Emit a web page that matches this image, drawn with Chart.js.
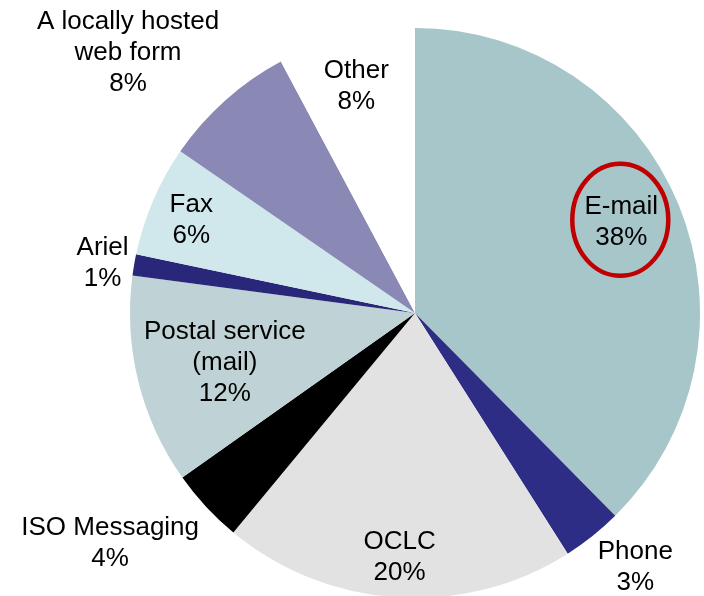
<!DOCTYPE html>
<html>
<head>
<meta charset="utf-8">
<script src="https://cdn.jsdelivr.net/npm/chart.js@4/dist/chart.umd.min.js"></script>
<style>
  html, body { margin: 0; padding: 0; background: #fff; overflow: hidden; }
  canvas { display: block; }
</style>
</head>
<body>
<canvas id="pie" width="704" height="600"></canvas>
<script>
// slices, clockwise from 12 o'clock
const categories = ['E-mail', 'Phone', 'OCLC', 'ISO Messaging', 'Postal service\n(mail)', 'Ariel', 'Fax', 'A locally hosted\nweb form', 'Other'];
const shares = [37.6, 3.4, 20, 4.2, 11.9, 1.2, 6.3, 7.6, 7.8];
const sliceColors = ['#a6c6c9', '#2e2d86', '#e2e2e2', '#000000', '#bfd2d5', '#29277a', '#d0e8eb', '#8a89b6', '#ffffff'];

// label placement: fraction of outer radius, angle nudge in degrees
const labelRadius = [0.79, 1.18, 0.86, 1.34, 0.69, 1.11, 0.85, 1.36, 0.82];
const labelNudge = [-1.3, -2.4, 0, 5.8, -0.9, -0.7, -0.7, -6, -0.5];
const circled = 'E-mail';

const sliceLabels = {
  id: 'sliceLabels',
  afterDatasetsDraw(chart) {
    const ctx = chart.ctx;
    const arcs = chart.getDatasetMeta(0).data;
    const total = shares.reduce((a, b) => a + b, 0);
    ctx.save();
    ctx.font = '26px "Liberation Sans", Arial, sans-serif';
    ctx.fillStyle = '#000';
    ctx.textAlign = 'center';
    ctx.textBaseline = 'middle';
    const lh = 31;
    arcs.forEach((arc, i) => {
      const p = arc.getProps(['x', 'y', 'startAngle', 'endAngle', 'outerRadius'], true);
      const a = (p.startAngle + p.endAngle) / 2 + labelNudge[i] * Math.PI / 180;
      const r = p.outerRadius * labelRadius[i];
      const cx = p.x + Math.cos(a) * r;
      const cy = p.y + Math.sin(a) * r;
      const lines = categories[i].split('\n');
      lines.push(Math.round(shares[i] / total * 100) + '%');
      const top = cy - (lines.length - 1) * lh / 2;
      lines.forEach((t, k) => ctx.fillText(t, cx, top + k * lh));
      if (categories[i] === circled) {
        ctx.beginPath();
        ctx.ellipse(cx - 1, cy - 3, 48, 56, 0, 0, Math.PI * 2);
        ctx.lineWidth = 4.5;
        ctx.strokeStyle = '#c00000';
        ctx.stroke();
      }
    });
    ctx.restore();
  }
};

new Chart(document.getElementById('pie'), {
  type: 'pie',
  data: {
    labels: categories,
    datasets: [{
      data: shares,
      backgroundColor: sliceColors,
      borderWidth: 0
    }]
  },
  options: {
    responsive: false,
    animation: false,
    layout: { padding: { left: 130, right: 4, top: 28, bottom: 2 } },
    plugins: {
      legend: { display: false },
      tooltip: { enabled: false }
    }
  },
  plugins: [sliceLabels]
});
</script>
</body>
</html>
